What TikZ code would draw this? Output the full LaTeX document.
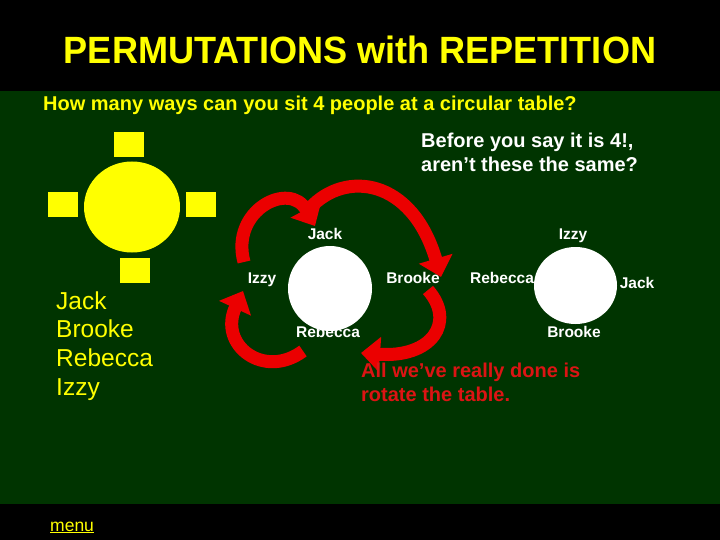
\documentclass[tikz,border=0pt]{standalone}
\usepackage{fontspec}
\setmainfont{Liberation Sans}
\usetikzlibrary{arrows.meta,shapes.geometric}
\definecolor{bggreen}{RGB}{0,52,0}
\definecolor{ylw}{RGB}{255,255,0}
\definecolor{arrred}{RGB}{235,0,0}
\definecolor{txtred}{RGB}{220,20,20}
\newcommand{\fs}[1]{\fontsize{#1}{#1}\selectfont}
\tikzset{
  lbl/.style={text=white,font=\fs{15.5}\bfseries,inner sep=0pt,anchor=base},
  seat/.style={fill=ylw,draw=none,minimum width=30pt,minimum height=25pt,inner sep=0pt},
  tbl/.style={ellipse,draw=none,inner sep=0pt},
  rot/.style={draw=arrred,line width=13pt,-{Triangle[length=19pt,width=34pt]}},
  ltxt/.style={inner sep=0pt,anchor=base west,align=left}
}
\begin{document}
\begin{tikzpicture}[x=1pt,y=-1pt]
\useasboundingbox (0,0) rectangle (720,540);
\fill[black] (0,0) rectangle (720,540);
\fill[bggreen] (0,91) rectangle (720,504);
% title
\node[inner sep=0pt,anchor=base,text=ylw,font=\fs{38}\bfseries] (title) at (360,64) {\scalebox{0.95}[1]{PERMUTATIONS with REPETITION}};
\node[ltxt,text=ylw,font=\fs{20}\bfseries] (q) at (43,111) {How many ways can you sit 4 people at a circular table?};
\node[ltxt,text=white,font=\fs{20}\bfseries] (b1) at (421,148) {Before you say it is 4!,};
\node[ltxt,text=white,font=\fs{20}\bfseries] (b2) at (421,172) {aren’t these the same?};
% yellow table
\node[tbl,fill=ylw,minimum width=96pt,minimum height=91pt] (yt) at (132,207) {};
\node[seat] (s1) at (129,144.5) {};
\node[seat] (s2) at (63,204.5) {};
\node[seat] (s3) at (201,204.5) {};
\node[seat] (s4) at (135,270) {};
% list
\node[ltxt,text=ylw,font=\fs{24.5}] (n1) at (56,309) {Jack};
\node[ltxt,text=ylw,font=\fs{24.5}] (n2) at (56,337) {Brooke};
\node[ltxt,text=ylw,font=\fs{24.5}] (n3) at (56,366) {Rebecca};
\node[ltxt,text=ylw,font=\fs{24.5}] (n4) at (56,395) {Izzy};
% rotation arrows
\coordinate (aS) at (244,262); \coordinate (aE) at (315,226);
\coordinate (bS) at (310,208); \coordinate (bE) at (441,277);
\coordinate (cS) at (428,290); \coordinate (cE) at (361,353);
\coordinate (dS) at (303,351); \coordinate (dE) at (243,291);
\draw[rot] (aS) .. controls (230,210) and (290,180) .. (aE);
\draw[rot] (bS) .. controls (345,170) and (412,178) .. (bE);
\draw[rot] (cS) .. controls (456,322) and (432,358) .. (cE);
\draw[rot] (dS) .. controls (264,380) and (218,345) .. (dE);
% first table
\node[lbl] (j1) at (325,240) {Jack};
\node[lbl] (i1) at (262,283) {Izzy};
\node[lbl] (b1l) at (413,283) {Brooke};
\node[lbl] (r1) at (328,337) {Rebecca};
\node[tbl,fill=white,minimum width=84pt,minimum height=85pt] (t1) at (330,288.5) {};
% second table
\node[lbl] (i2) at (573,240) {Izzy};
\node[lbl] (r2) at (502,283) {Rebecca};
\node[lbl] (j2) at (637,288) {Jack};
\node[lbl] (b2l) at (574,337) {Brooke};
\node[tbl,fill=white,minimum width=83pt,minimum height=77pt] (t2) at (575.5,285.5) {};
% conclusion
\node[ltxt,text=txtred,font=\fs{20}\bfseries] (c1) at (361,377) {All we’ve really done is};
\node[ltxt,text=txtred,font=\fs{20}\bfseries] (c2) at (361,401) {rotate the table.};
% menu
\node[ltxt,text=ylw,font=\fs{17.5}] (menu) at (50,531) {\underline{menu}};
\end{tikzpicture}
\end{document}
